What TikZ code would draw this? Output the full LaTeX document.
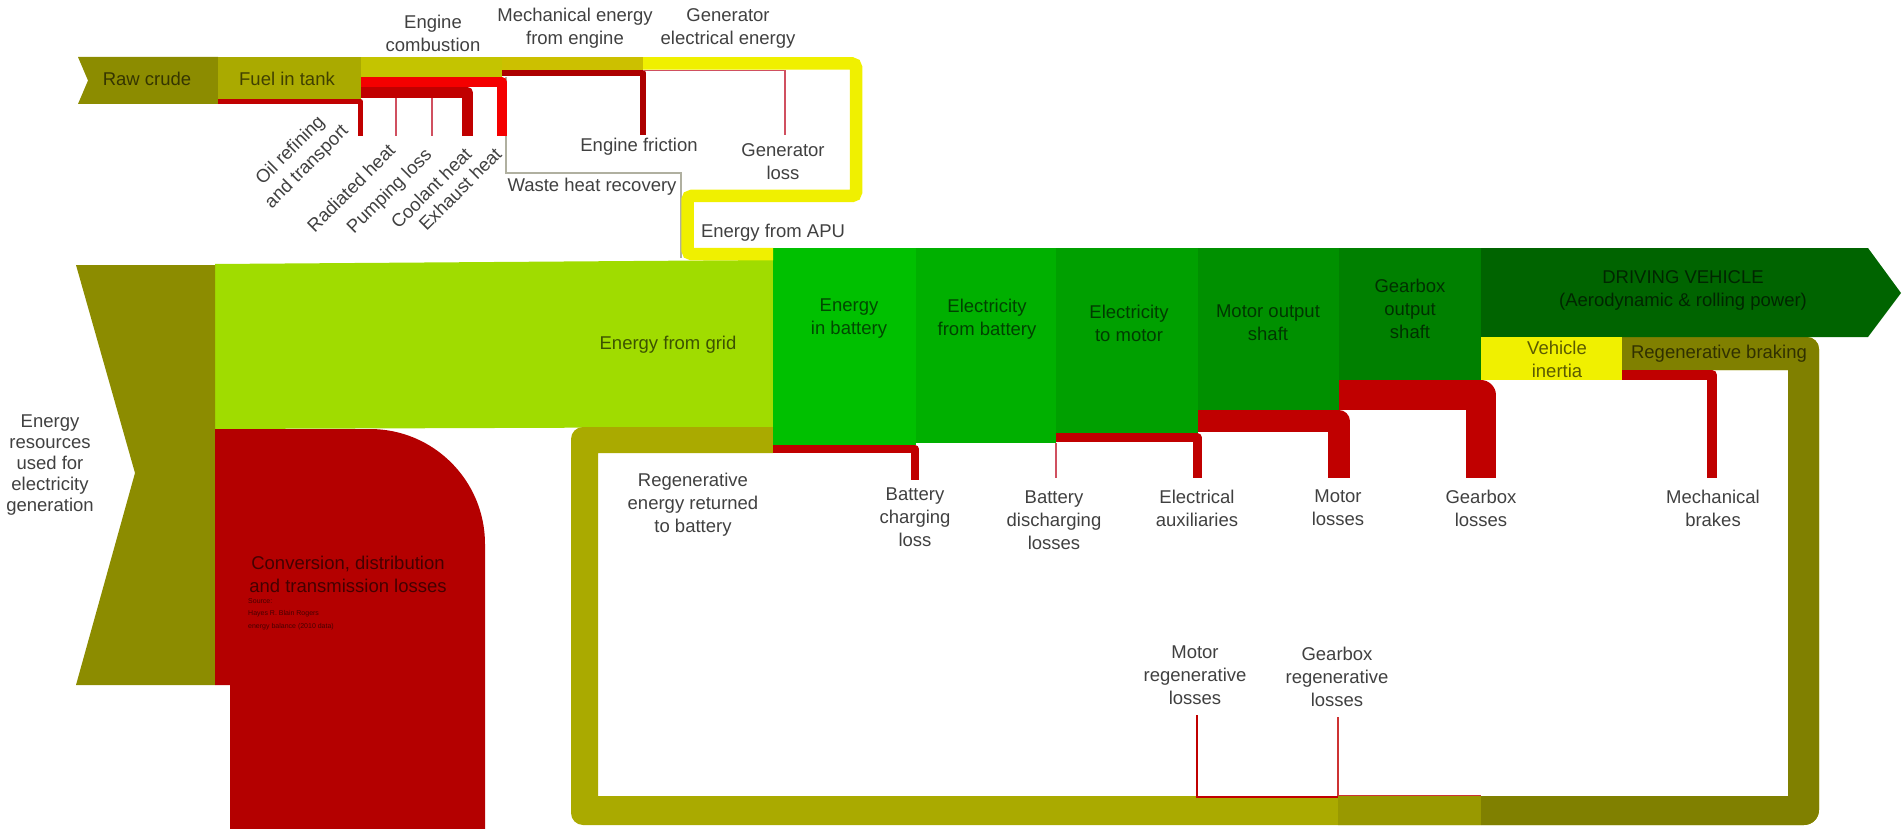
\documentclass[tikz,border=0pt]{standalone}
\usepackage{fontspec}
\setmainfont{Liberation Sans}
\definecolor{rawc}{HTML}{8C8C00}
\definecolor{fuelc}{HTML}{AAAA00}
\definecolor{combc}{HTML}{C4C400}
\definecolor{mechc}{HTML}{CCC000}
\definecolor{genc}{HTML}{F0F000}
\definecolor{gridc}{HTML}{A0DC00}
\definecolor{resc}{HTML}{8C8C00}
\definecolor{convc}{HTML}{B40000}
\definecolor{lossc}{HTML}{C00000}
\definecolor{brightred}{HTML}{F40000}
\definecolor{thinred}{HTML}{D05060}
\definecolor{greyl}{HTML}{B0B0A0}
\definecolor{gA}{HTML}{00C000}
\definecolor{gB}{HTML}{00B000}
\definecolor{gC}{HTML}{00A000}
\definecolor{gD}{HTML}{009000}
\definecolor{gE}{HTML}{008000}
\definecolor{gF}{HTML}{006400}
\definecolor{regA}{HTML}{AAAA00}
\definecolor{regB}{HTML}{999900}
\definecolor{regC}{HTML}{808000}
\definecolor{labc}{HTML}{404040}
\newcommand\lblfont{\fontsize{18.5}{23}\selectfont}
\newcommand\looppath{(773,427) -- (583,427) .. controls (576.4,427) and (571,432.4) .. (571,439) -- (571,813) .. controls (571,819.6) and (576.4,825) .. (583,825) -- (1804,825) .. controls (1812.3,825) and (1819,818.3) .. (1819,810) -- (1819,349) .. controls (1819,342.4) and (1813.6,337) .. (1807,337) -- (1622,337) -- (1622,370) -- (1788,370) -- (1788,796) -- (598,796) -- (598,453) -- (773,453) -- cycle}
\begin{document}
\begin{tikzpicture}[x=1pt,y=-1pt,
  lab/.style={text=labc,font=\lblfont,align=center,inner sep=0pt},
  intext/.style={text=black,text opacity=0.62,font=\lblfont,align=center,inner sep=0pt},
  loss/.style={draw=lossc,line join=round},
  thinloss/.style={draw=thinred,line width=1.5pt}]
\useasboundingbox (0,0) rectangle (1903,829);

% grid band and resources
\fill[gridc] (215,264) -- (773,260) -- (773,427) -- (215,429) -- cycle;
\fill[resc] (76,265) -- (215,265) -- (215,685) -- (76,685) -- (135,473) -- cycle;
\fill[convc] (215,429) -- (370,429) .. controls (433.5,429) and (485,480.5) .. (485,544) -- (485,829) -- (230,829) -- (230,685) -- (215,685) -- cycle;

% regenerative loop
\fill[regA] \looppath;
\begin{scope}
  \clip (1338,0) rectangle (1481,829);
  \fill[regB] \looppath;
\end{scope}
\begin{scope}
  \clip (1481,0) rectangle (1903,829);
  \fill[regC] \looppath;
\end{scope}

% green columns
\fill[gA] (773,248) rectangle (916,445);
\fill[gB] (916,248) rectangle (1056,443);
\fill[gC] (1056,248) rectangle (1198,433);
\fill[gD] (1198,248) rectangle (1339,410);
\fill[gE] (1339,248) rectangle (1481,380);
\fill[gF] (1481,248) -- (1868,248) -- (1901,293) -- (1868,337) -- (1481,337) -- cycle;
\fill[genc] (1481,337) rectangle (1622,380);

% losses of the drive train
\draw[loss,line width=8] (773,449) -- (915,449) -- (915,480);
\draw[thinloss] (1056,443) -- (1056,478);
\draw[loss,line width=9] (1056,437.5) -- (1197,437.5) -- (1197,478);
\draw[loss,line width=22] (1198,421) -- (1338.5,421) -- (1338.5,478);
\draw[loss,line width=30] (1339,395) -- (1480.5,395) -- (1480.5,478);
\draw[loss,line width=10] (1622,375) -- (1712,375) -- (1712,478);
\draw[draw=lossc,line width=2] (1197,715) -- (1197,797) -- (1338,797);
\draw[draw=lossc!80,line width=1.2] (1338,717) -- (1338,795.5) -- (1481,795.5);

% APU path
\draw[greyl,line width=1.2] (506,77) -- (506,173) -- (681,173) -- (681,258);
\draw[genc,line width=12.5,rounded corners=4] (643,63.5) -- (856,63.5) -- (856,196) -- (687.5,196) -- (687.5,254) -- (773,254);

% top band
\fill[rawc] (78,57) -- (218,57) -- (218,104) -- (78,104) -- (88,80.5) -- cycle;
\fill[fuelc] (218,57) rectangle (361,99);
\fill[combc] (361,57) rectangle (502,77);
\fill[mechc] (502,57) rectangle (643,70);
\draw[loss,line width=5] (218,101.5) -- (360.5,101.5) -- (360.5,136);
\draw[draw=brightred,line join=round,line width=10] (361,82) -- (502,82) -- (502,136);
\draw[loss,line width=11] (361,92.5) -- (467.5,92.5) -- (467.5,136);
\draw[thinloss] (396,98) -- (396,136);
\draw[thinloss] (432,98) -- (432,136);
\draw[draw=lossc!90!black,line join=round,line width=6] (502,73) -- (643,73) -- (643,135);
\draw[thinloss,line width=1.3] (643,70.5) -- (785,70.5) -- (785,135);

% labels in bands
\node[intext] (raw) at (147,79) {Raw crude};
\node[intext] (fuel) at (287,79) {Fuel in tank};
\node[intext] (grid) at (668,345) {Energy from grid};
\node[intext] (ebat) at (849,319) {Energy\\in battery};
\node[intext] (efb) at (987,319) {Electricity\\from battery};
\node[intext] (etm) at (1129,323) {Electricity\\to motor};
\node[intext] (mos) at (1268,323) {Motor output\\shaft};
\node[intext] (gos) at (1410,309) {Gearbox\\output\\shaft};
\node[intext] (drive) at (1683,290) {DRIVING VEHICLE\\(Aerodynamic \& rolling power)};
\node[intext] (inert) at (1557,359) {Vehicle\\inertia};
\node[intext] (regbr) at (1719,354) {Regenerative braking};
\node[intext] (conv) at (348,574) {Conversion, distribution\\and transmission losses};
\node[intext,font=\fontsize{7}{12.5}\selectfont,align=left,anchor=north west] (src) at (248,598) {Source:\\Hayes R. Blain Rogers\\energy balance (2010 data)};

% outside labels
\node[lab] (comb) at (433,33.5) {Engine\\combustion};
\node[lab] (mech) at (575,28.5) {Mechanical energy\\from engine};
\node[lab] (gen) at (728,28.5) {Generator\\electrical energy};
\node[lab,rotate=45] (oil) at (299,159) {Oil refining\\and transport};
\node[lab,rotate=45] (rad) at (351,188) {Radiated heat};
\node[lab,rotate=45] (pump) at (390,192) {Pumping loss};
\node[lab,rotate=45] (cool) at (431,188) {Coolant heat};
\node[lab,rotate=45] (exh) at (460,189) {Exhaust heat};
\node[lab] (fric) at (639,147) {Engine friction};
\node[lab] (genloss) at (783,161.5) {Generator\\loss};
\node[lab] (waste) at (592,187) {Waste heat recovery};
\node[lab] (apu) at (773,233) {Energy from APU};
\node[lab,font=\fontsize{18.5}{21}\selectfont] (res) at (50,465) {Energy\\resources\\used for\\electricity\\generation};
\node[lab] (regret) at (693,505) {Regenerative\\energy returned\\to battery};
\node[lab] (bcl) at (915,517) {Battery\\charging\\loss};
\node[lab] (bdl) at (1054,520) {Battery\\discharging\\losses};
\node[lab] (eaux) at (1197,508) {Electrical\\auxiliaries};
\node[lab] (ml) at (1338,508) {Motor\\losses};
\node[lab] (gl) at (1481,508) {Gearbox\\losses};
\node[lab] (mb) at (1713,508) {Mechanical\\brakes};
\node[lab] (mrl) at (1195,675) {Motor\\regenerative\\losses};
\node[lab] (grl) at (1337,677) {Gearbox\\regenerative\\losses};
\end{tikzpicture}
\end{document}
